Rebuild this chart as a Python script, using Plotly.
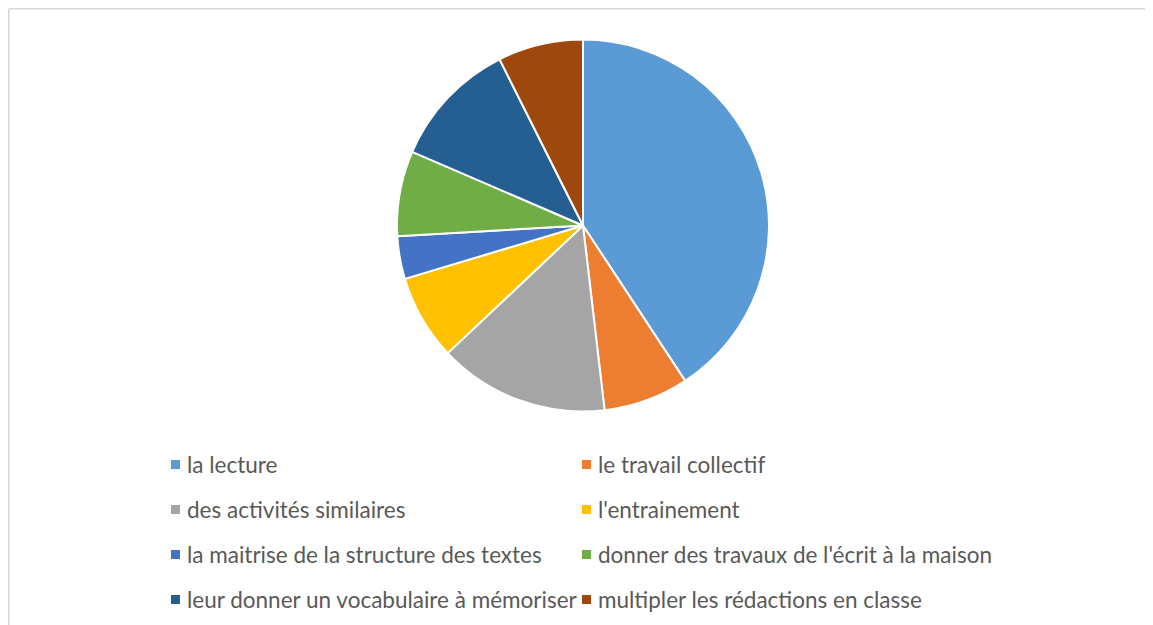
import plotly.graph_objects as go

labels = ["la lecture", "le travail collectif", "des activités similaires", "l'entrainement",
          "la maitrise de la structure des textes", "donner des travaux de l'écrit à la maison",
          "leur donner un vocabulaire à mémoriser", "multipler les rédactions en classe"]
values = [11, 2, 4, 2, 1, 2, 3, 2]
colors = ["#5B9BD5", "#ED7D31", "#A5A5A5", "#FFC000", "#4472C4", "#70AD47", "#255E91", "#9E480E"]

W, H = 1153, 625
OX, OY = 8, 8.5  # page offset compensation
cx, cy, r = 583 - OX, 226 - OY, 186

fig = go.Figure()
fig.add_trace(go.Pie(
    labels=labels, values=values, sort=False, direction="clockwise", rotation=0,
    marker=dict(colors=colors, line=dict(color="white", width=2)),
    textinfo="none", showlegend=False, hoverinfo="label+value",
    domain=dict(x=[(cx - r) / W, (cx + r) / W], y=[1 - (cy + r) / H, 1 - (cy - r) / H]),
))

shapes = []
annotations = []
bx, by = 0.75, 0.75
shapes.append(dict(type="line", xref="paper", yref="paper", x0=bx / W, x1=1.01, y0=1 - by / H, y1=1 - by / H,
                   line=dict(color="#d9d9d9", width=1.5)))
shapes.append(dict(type="line", xref="paper", yref="paper", x0=bx / W, x1=bx / W, y0=1 - by / H, y1=-0.01,
                   line=dict(color="#d9d9d9", width=1.5)))

col_x = [171, 582]
row_y = [465, 510, 555, 600]
for i, (lab, col) in enumerate(zip(labels, colors)):
    x = col_x[i % 2] - OX
    y = row_y[i // 2] - OY
    shapes.append(dict(type="rect", xref="paper", yref="paper",
                       x0=x / W, x1=(x + 9) / W, y0=1 - (y + 4.5) / H, y1=1 - (y - 4.5) / H,
                       fillcolor=col, line=dict(width=0)))
    annotations.append(dict(text=lab, xref="paper", yref="paper", x=(x + 14) / W, y=1 - y / H,
                            xanchor="left", yanchor="middle", showarrow=False,
                            font=dict(family="Lato", size=22.5, color="#595959")))

fig.update_layout(
    width=W, height=H, margin=dict(l=0, r=0, t=0, b=0),
    paper_bgcolor="white", plot_bgcolor="white",
    shapes=shapes, annotations=annotations,
)
fig.write_html("out.html")
